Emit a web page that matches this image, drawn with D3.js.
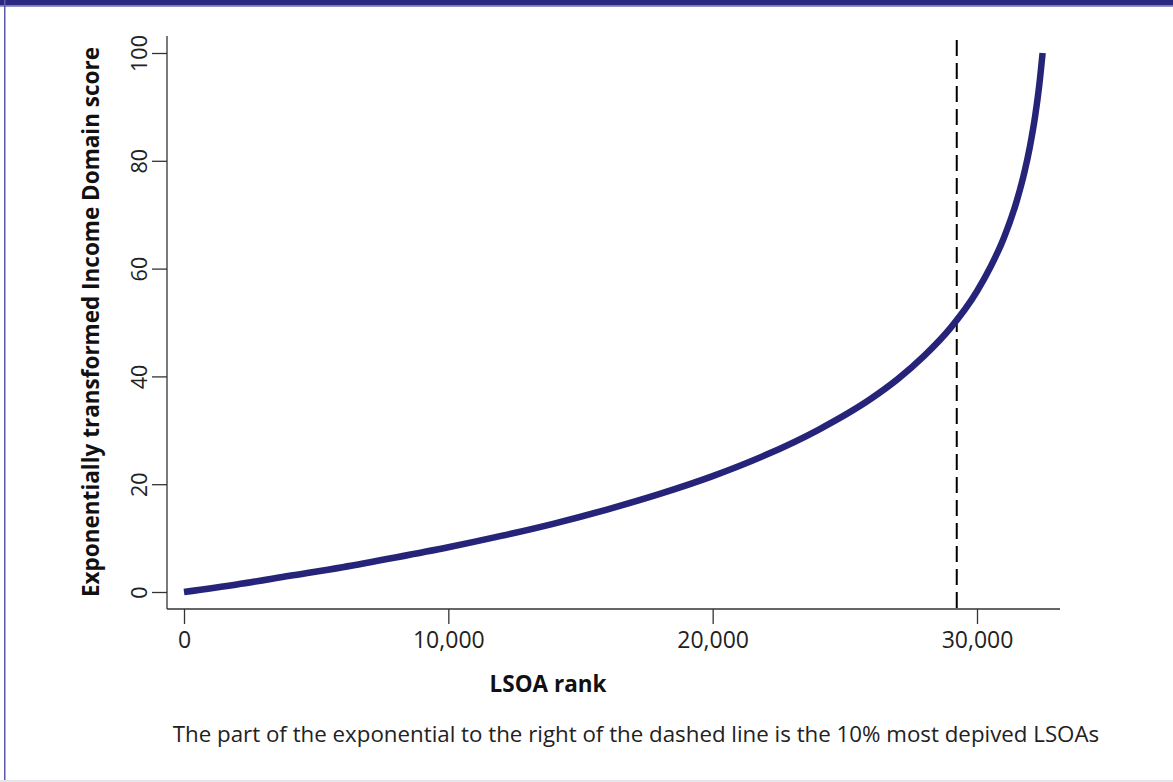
<!DOCTYPE html>
<html>
<head>
  <meta charset="utf-8">
  <script src="https://d3js.org/d3.v7.min.js"></script>
  <style>
    body { margin:0; background:#fff; }
    svg { display:block; }
  </style>
</head>
<body>
<script>
  // LSOA rank vs exponentially transformed score
  const ranks  = [0, 2000, 4000, 6000, 8000, 10000, 12000, 14000, 16000, 18000, 20000,
                  22000, 24000, 26000, 27000, 28000, 29000, 30000, 30500, 31000, 31500,
                  31800, 32000, 32200, 32350, 32482];
  const scores = [0, 1.4, 3.0, 4.6, 6.4, 8.3, 10.4, 12.7, 15.3, 18.2, 21.5,
                  25.4, 30.1, 35.9, 39.5, 43.8, 49.0, 55.8, 60.2, 65.5, 72.5,
                  78.0, 82.6, 88.3, 93.8, 100];
  const cutoffRank = 29234;   // 10% most deprived threshold
  const xTicks = [0, 10000, 20000, 30000];
  const yTicks = [0, 20, 40, 60, 80, 100];

  const width = 1173, height = 782;
  const data = ranks.map((r, i) => ({ rank: r, score: scores[i] }));

  const svg = d3.select("body").append("svg")
      .attr("width", width)
      .attr("height", height);

  // frame: dark top band, thin left border, faint bottom rule
  svg.append("rect").attr("x", 0).attr("y", 0).attr("width", width).attr("height", 5.5).attr("fill", "#2a2880");
  svg.append("rect").attr("x", 0).attr("y", 5.5).attr("width", width).attr("height", 1.2).attr("fill", "#6664b0");
  svg.append("rect").attr("x", 4).attr("y", 0).attr("width", 1.5).attr("height", 781).attr("fill", "#5b59aa");
  svg.append("rect").attr("x", 0).attr("y", 780).attr("width", width).attr("height", 2).attr("fill", "#e6e6ea");

  const x = d3.scaleLinear().domain([0, 30000]).range([184, 977]);
  const y = d3.scaleLinear().domain([0, 100]).range([592, 53]);

  const axisLeft = 167, axisBottom = 609;
  const axisColor = "#333";
  const font = "'Open Sans', sans-serif";

  // L-shaped axes
  svg.append("line").attr("x1", axisLeft).attr("x2", axisLeft).attr("y1", 36).attr("y2", axisBottom)
     .attr("stroke", axisColor).attr("stroke-width", 1.3);
  svg.append("line").attr("x1", axisLeft).attr("x2", 1060).attr("y1", axisBottom).attr("y2", axisBottom)
     .attr("stroke", axisColor).attr("stroke-width", 1.3);

  const xAxis = d3.axisBottom(x).tickValues(xTicks).tickSize(15).tickPadding(8)
      .tickFormat(d3.format(","));
  const gx = svg.append("g").attr("transform", `translate(0,${axisBottom})`).call(xAxis);
  gx.select(".domain").remove();
  gx.selectAll(".tick text").style("font-size", "23px");

  const yAxis = d3.axisLeft(y).tickValues(yTicks).tickSize(15);
  const gy = svg.append("g").attr("transform", `translate(${axisLeft},0)`).call(yAxis);
  gy.select(".domain").remove();
  gy.selectAll(".tick text")
      .attr("x", -20).attr("y", 0).attr("dy", 0)
      .attr("text-anchor", "middle")
      .attr("transform", "rotate(-90,-20,0)")
      .style("font-size", "21.5px");

  svg.selectAll(".tick line").attr("stroke", axisColor).attr("stroke-width", 1.3);
  svg.selectAll(".tick text")
      .attr("fill", "#222")
      .style("font-family", font);

  // cut-off line
  svg.append("line")
      .attr("x1", x(cutoffRank)).attr("x2", x(cutoffRank))
      .attr("y1", 40).attr("y2", axisBottom)
      .attr("stroke", "#000").attr("stroke-width", 2)
      .attr("stroke-dasharray", "16,7");

  // curve
  const line = d3.line().x(d => x(d.rank)).y(d => y(d.score)).curve(d3.curveMonotoneX);
  svg.append("path").datum(data)
      .attr("d", line)
      .attr("fill", "none")
      .attr("stroke", "#262478")
      .attr("stroke-width", 6.5);

  // axis titles
  svg.append("text")
      .attr("x", 548).attr("y", 692)
      .attr("text-anchor", "middle")
      .style("font-family", font)
      .style("font-weight", "bold")
      .style("font-size", "22.5px")
      .attr("fill", "#111")
      .text("LSOA rank");

  svg.append("text")
      .attr("transform", "translate(99,322) rotate(-90)")
      .attr("text-anchor", "middle")
      .style("font-family", font)
      .style("font-weight", "bold")
      .style("font-size", "22.5px")
      .attr("fill", "#111")
      .text("Exponentially transformed Income Domain score");

  svg.append("text")
      .attr("x", 636).attr("y", 742)
      .attr("text-anchor", "middle")
      .style("font-family", font)
      .style("font-size", "22.3px")
      .attr("fill", "#222")
      .text("The part of the exponential to the right of the dashed line is the 10% most depived LSOAs");
</script>
</body>
</html>
